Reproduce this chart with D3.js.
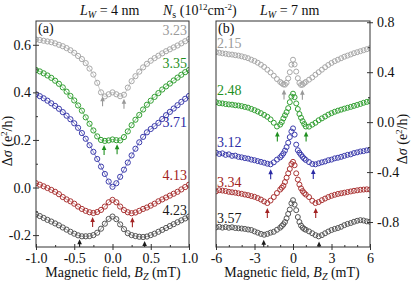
<!DOCTYPE html>
<html><head><meta charset="utf-8">
<script src="https://cdn.jsdelivr.net/npm/d3@7"></script>
<style>
html,body{margin:0;padding:0;background:#fff;}
svg, svg text{font-family:'Liberation Serif', 'Times New Roman', Times, serif;}
</style></head><body>
<svg id="c" width="415" height="282"></svg>
<script>
// ---------- Panel (a): L_W = 4 nm ----------
const fieldA = [-1.00,-0.95,-0.90,-0.85,-0.80,-0.75,-0.70,-0.65,-0.60,-0.55,-0.50,-0.45,-0.40,-0.35,-0.30,-0.25,-0.20,-0.15,-0.10,-0.05,0.00,0.05,0.10,0.15,0.20,0.25,0.30,0.35,0.40,0.45,0.50,0.55,0.60,0.65,0.70,0.75,0.80,0.85,0.90,0.95,1.00];
const sigmaA323 = [0.622,0.620,0.617,0.614,0.611,0.606,0.600,0.594,0.586,0.577,0.566,0.553,0.540,0.523,0.500,0.475,0.440,0.400,0.383,0.392,0.400,0.392,0.384,0.390,0.420,0.447,0.468,0.487,0.505,0.520,0.533,0.544,0.554,0.564,0.573,0.581,0.589,0.597,0.606,0.615,0.624];
const sigmaA335 = [0.494,0.488,0.480,0.471,0.461,0.449,0.436,0.421,0.403,0.385,0.366,0.345,0.323,0.295,0.268,0.240,0.215,0.200,0.196,0.198,0.202,0.199,0.198,0.212,0.236,0.262,0.285,0.305,0.328,0.348,0.365,0.381,0.397,0.412,0.425,0.437,0.450,0.462,0.474,0.485,0.494];
const sigmaA371 = [0.392,0.384,0.375,0.365,0.354,0.343,0.331,0.317,0.302,0.287,0.270,0.251,0.229,0.205,0.178,0.150,0.120,0.088,0.057,0.025,0.003,0.018,0.045,0.075,0.105,0.135,0.163,0.190,0.213,0.232,0.246,0.258,0.272,0.288,0.304,0.318,0.332,0.346,0.360,0.373,0.385];
const sigmaA413 = [0.018,0.012,0.005,-0.002,-0.010,-0.018,-0.028,-0.040,-0.050,-0.058,-0.068,-0.080,-0.090,-0.098,-0.104,-0.107,-0.103,-0.094,-0.080,-0.062,-0.052,-0.062,-0.080,-0.095,-0.104,-0.108,-0.105,-0.098,-0.090,-0.084,-0.076,-0.068,-0.058,-0.050,-0.042,-0.034,-0.026,-0.018,-0.008,0.002,0.012];
const sigmaA423 = [-0.113,-0.120,-0.128,-0.136,-0.143,-0.151,-0.159,-0.168,-0.177,-0.186,-0.194,-0.201,-0.205,-0.205,-0.204,-0.200,-0.190,-0.173,-0.152,-0.132,-0.122,-0.133,-0.155,-0.175,-0.192,-0.200,-0.204,-0.207,-0.208,-0.206,-0.200,-0.194,-0.186,-0.178,-0.170,-0.162,-0.154,-0.146,-0.138,-0.130,-0.122];
const densityA = ["3.23","3.35","3.71","4.13","4.23"];
const arrowsA = [[-0.13,0.15],[-0.11,0.06],[],[-0.26,0.26],[-0.43,0.42]];

// ---------- Panel (b): L_W = 7 nm ----------
const fieldB = [-6.00,-5.75,-5.50,-5.25,-5.00,-4.75,-4.50,-4.25,-4.00,-3.75,-3.50,-3.25,-3.00,-2.75,-2.50,-2.25,-2.00,-1.75,-1.50,-1.25,-1.00,-0.875,-0.75,-0.625,-0.50,-0.375,-0.25,-0.125,0,0.125,0.25,0.375,0.50,0.625,0.75,0.875,1.00,1.25,1.50,1.75,2.00,2.25,2.50,2.75,3.00,3.25,3.50,3.75,4.00,4.25,4.50,4.75,5.00,5.25,5.50,5.75,6.00];
const sigmaB215 = [0.560,0.556,0.551,0.548,0.543,0.541,0.536,0.533,0.527,0.520,0.512,0.500,0.490,0.476,0.460,0.442,0.420,0.398,0.372,0.345,0.322,0.312,0.302,0.300,0.315,0.350,0.400,0.460,0.500,0.462,0.405,0.352,0.314,0.298,0.300,0.312,0.322,0.340,0.358,0.380,0.400,0.420,0.440,0.458,0.474,0.488,0.500,0.512,0.524,0.533,0.542,0.552,0.560,0.568,0.576,0.584,0.592];
const sigmaB248 = [0.160,0.152,0.150,0.145,0.142,0.140,0.135,0.133,0.128,0.122,0.116,0.106,0.096,0.085,0.072,0.058,0.043,0.022,-0.005,-0.035,-0.020,0.000,0.030,0.055,0.080,0.112,0.160,0.205,0.228,0.200,0.150,0.105,0.065,0.035,0.008,-0.015,-0.035,-0.036,-0.020,-0.005,0.015,0.030,0.045,0.060,0.072,0.083,0.092,0.100,0.108,0.115,0.122,0.130,0.138,0.146,0.155,0.162,0.168];
const sigmaB312 = [-0.245,-0.255,-0.250,-0.262,-0.258,-0.270,-0.268,-0.278,-0.282,-0.288,-0.292,-0.300,-0.305,-0.312,-0.318,-0.325,-0.333,-0.338,-0.322,-0.300,-0.282,-0.268,-0.250,-0.228,-0.200,-0.165,-0.120,-0.075,-0.050,-0.100,-0.180,-0.225,-0.245,-0.262,-0.278,-0.292,-0.303,-0.320,-0.335,-0.338,-0.330,-0.322,-0.315,-0.305,-0.300,-0.290,-0.285,-0.278,-0.270,-0.262,-0.258,-0.248,-0.242,-0.235,-0.232,-0.226,-0.222];
const sigmaB334 = [-0.555,-0.545,-0.548,-0.552,-0.558,-0.562,-0.565,-0.570,-0.574,-0.580,-0.585,-0.592,-0.598,-0.608,-0.620,-0.635,-0.648,-0.628,-0.600,-0.568,-0.540,-0.525,-0.510,-0.480,-0.445,-0.410,-0.375,-0.335,-0.318,-0.345,-0.410,-0.460,-0.500,-0.530,-0.552,-0.568,-0.580,-0.600,-0.630,-0.648,-0.640,-0.625,-0.612,-0.600,-0.590,-0.582,-0.575,-0.570,-0.565,-0.560,-0.555,-0.550,-0.546,-0.542,-0.540,-0.538,-0.540];
const sigmaB357 = [-0.843,-0.838,-0.845,-0.840,-0.846,-0.842,-0.848,-0.850,-0.852,-0.855,-0.860,-0.864,-0.875,-0.885,-0.895,-0.902,-0.895,-0.885,-0.878,-0.862,-0.845,-0.832,-0.818,-0.800,-0.770,-0.735,-0.700,-0.650,-0.625,-0.660,-0.705,-0.760,-0.800,-0.828,-0.845,-0.855,-0.862,-0.875,-0.890,-0.905,-0.915,-0.905,-0.890,-0.876,-0.864,-0.855,-0.848,-0.838,-0.825,-0.815,-0.808,-0.798,-0.790,-0.785,-0.788,-0.795,-0.798];
const densityB = ["2.15","2.48","3.12","3.34","3.57"];
const arrowsB = [[-0.70,0.73],[-1.22,1.02],[-1.74,1.58],[-2.00,1.77],[-2.28,2.03]];

// ---------- tick values ----------
const ticksAX = [-1.0,-0.5,0,0.5,1.0], ticksAXminor = [-0.75,-0.25,0.25,0.75];
const ticksAY = [-0.2,0,0.2,0.4,0.6], ticksAYminor = [-0.1,0.1,0.3,0.5];
const ticksBX = [-6,-3,0,3,6], ticksBXminor = [-5,-4,-2,-1,1,2,4,5];
const ticksBY = [-0.8,-0.4,0,0.4,0.8], ticksBYminor = [-0.6,-0.2,0.2,0.6];

// ---------- styles ----------
const SERIF = "Liberation Serif";
const markerColors = ["#a8a8a8","#33a033","#3c3cac","#aa3434","#555555"];
const textColors   = ["#9a9a9a","#1f901f","#2a2aa4","#a22222","#1a1a1a"];

const loc = d3.formatLocale({decimal:".",thousands:",",grouping:[3],currency:["",""],minus:"-"});
const f1 = loc.format(".1f"), f0 = loc.format("d");

const svg = d3.select("#c").attr("font-family",SERIF);
const FS = 14;

const panels = [
  {id:"a", x:d3.scaleLinear().domain([-1,1]).range([36,189]),
   y:d3.scaleLinear().domain([-0.25,0.70]).range([247,21]),
   field:fieldA, series:[sigmaA323,sigmaA335,sigmaA371,sigmaA413,sigmaA423],
   labels:densityA, arrows:arrowsA, r:2.6, off:4, line:true,
   labelBase:[35,68,127,180,215], labelAnchor:"end"},
  {id:"b", x:d3.scaleLinear().domain([-6,6]).range([216,370]),
   y:d3.scaleLinear().domain([-1.0,0.81]).range([247,21]),
   field:fieldB, series:[sigmaB215,sigmaB248,sigmaB312,sigmaB334,sigmaB357],
   labels:densityB, arrows:arrowsB, r:2.5, off:5, line:false,
   labelBase:[48,95,147,187,223], labelAnchor:"start"}
];

function txt(sel){ return sel.append("text").attr("font-family",SERIF).attr("font-size",FS); }

panels.forEach(p=>{
  const [x0,x1]=p.x.range(), [y1,y0]=p.y.range();
  const g = svg.append("g");
  g.append("clipPath").attr("id","clip"+p.id).append("rect")
    .attr("x",x0).attr("y",y0).attr("width",x1-x0).attr("height",y1-y0);
  const data = g.append("g").attr("clip-path",`url(#clip${p.id})`);
  p.series.forEach((s,i)=>{
    const n = Math.min(s.length,p.field.length);
    const pts = d3.range(n).map(k=>[p.field[k],s[k]]);
    if(p.line){
      data.append("path").datum(pts)
        .attr("d",d3.line().x(d=>p.x(d[0])).y(d=>p.y(d[1])).curve(d3.curveMonotoneX))
        .attr("fill","none").attr("stroke",markerColors[i]).attr("stroke-width",1).attr("opacity",0.6);
    }
    data.selectAll(null).data(pts).enter().append("circle")
      .attr("cx",d=>p.x(d[0])).attr("cy",d=>p.y(d[1])).attr("r",p.r)
      .attr("fill","none").attr("stroke",markerColors[i]).attr("stroke-width",1);
    const ac = i===0 ? "#999" : textColors[i];
    p.arrows[i].forEach(ax=>{
      let best=0; for(let k=0;k<n;k++){ if(Math.abs(p.field[k]-ax)<Math.abs(p.field[best]-ax)) best=k; }
      const xp=p.x(ax), yt=p.y(s[best])+p.off;
      data.append("line").attr("x1",xp).attr("x2",xp).attr("y1",yt+3).attr("y2",yt+10)
        .attr("stroke",ac).attr("stroke-width",1.1);
      data.append("path").attr("d",`M${xp},${yt} L${xp-2.3},${yt+5} L${xp+2.3},${yt+5} Z`).attr("fill",ac);
    });
    const lx = p.labelAnchor==="end" ? x1-2 : x0+1;
    txt(g).attr("x",lx).attr("y",p.labelBase[i]).attr("text-anchor",p.labelAnchor)
      .attr("fill",textColors[i]).text(p.labels[i]);
  });
  g.append("rect").attr("x",x0).attr("y",y0).attr("width",x1-x0).attr("height",y1-y0)
    .attr("fill","none").attr("stroke","#333").attr("stroke-width",1);
  txt(g).attr("x",x0+2).attr("y",33).attr("fill","#111").text(`(${p.id})`);
});

function styleAxis(sel){
  sel.attr("font-family",SERIF).attr("font-size",FS);
  sel.select(".domain").remove();
  sel.selectAll(".tick line").attr("stroke","#333");
  sel.selectAll(".tick text").attr("font-size",FS).attr("font-family",SERIF).attr("fill","#111");
}
function drawAxes(p, xt, xtm, yt, ytm, fmtX, fmtY, side){
  const [x0,x1]=p.x.range(), [y1,y0]=p.y.range();
  svg.append("g").attr("transform",`translate(0,${y1})`)
    .call(d3.axisBottom(p.x).tickValues(xt).tickSize(3).tickPadding(3).tickFormat(fmtX)).call(styleAxis);
  svg.append("g").attr("transform",`translate(0,${y1})`)
    .call(d3.axisBottom(p.x).tickValues(xt).tickSize(-3).tickFormat("")).call(styleAxis);
  svg.append("g").attr("transform",`translate(0,${y1})`)
    .call(d3.axisBottom(p.x).tickValues(xtm).tickSize(-2).tickFormat("")).call(styleAxis);
  const ax = side==="left" ? d3.axisLeft : d3.axisRight;
  const xx = side==="left" ? x0 : x1;
  svg.append("g").attr("transform",`translate(${xx},0)`)
    .call(ax(p.y).tickValues(yt).tickSize(3).tickPadding(side==="left"?2:4).tickFormat(fmtY)).call(styleAxis);
  svg.append("g").attr("transform",`translate(${xx},0)`)
    .call(ax(p.y).tickValues(yt).tickSize(-3).tickFormat("")).call(styleAxis);
  svg.append("g").attr("transform",`translate(${xx},0)`)
    .call(ax(p.y).tickValues(ytm).tickSize(-2).tickFormat("")).call(styleAxis);
}
drawAxes(panels[0], ticksAX, ticksAXminor, ticksAY, ticksAYminor, f1, f1, "left");
drawAxes(panels[1], ticksBX, ticksBXminor, ticksBY, ticksBYminor, f0, f1, "right");

function xTitle(cx){
  const t = txt(svg).attr("x",cx).attr("y",277).attr("text-anchor","middle").attr("fill","#111");
  t.append("tspan").text("Magnetic field, ");
  t.append("tspan").attr("font-style","italic").text("B");
  t.append("tspan").attr("font-style","italic").attr("font-size",10).attr("dy",3).text("Z");
  t.append("tspan").attr("dy",-3).text(" (mT)");
}
xTitle(113); xTitle(292);
function yTitle(cx,cy){
  const t = txt(svg).attr("transform",`translate(${cx},${cy}) rotate(-90)`)
    .attr("text-anchor","middle").attr("fill","#111");
  t.append("tspan").text("Δ");
  t.append("tspan").attr("font-style","italic").text("σ");
  t.append("tspan").text(" (e");
  t.append("tspan").attr("font-size",9).attr("dy",-5).text("2");
  t.append("tspan").attr("dy",5).text("/h)");
}
yTitle(12,141); yTitle(407,139);

function lw(x, val){
  const t = txt(svg).attr("x",x).attr("y",15).attr("fill","#111");
  t.append("tspan").attr("font-style","italic").text("L");
  t.append("tspan").attr("font-style","italic").attr("font-size",10).attr("dy",3).text("W");
  t.append("tspan").attr("dy",-3).text(` = ${val} nm`);
}
lw(80,4); lw(260,7);
{
  const t = txt(svg).attr("x",163).attr("y",15).attr("fill","#111");
  t.append("tspan").attr("font-style","italic").text("N");
  t.append("tspan").attr("font-size",10).attr("dy",3).text("s");
  t.append("tspan").attr("dy",-3).text(" (10");
  t.append("tspan").attr("font-size",9).attr("dy",-5).text("12");
  t.append("tspan").attr("dy",5).text("cm");
  t.append("tspan").attr("font-size",9).attr("dy",-5).text("-2");
  t.append("tspan").attr("dy",5).text(")");
}
</script>
</body></html>
